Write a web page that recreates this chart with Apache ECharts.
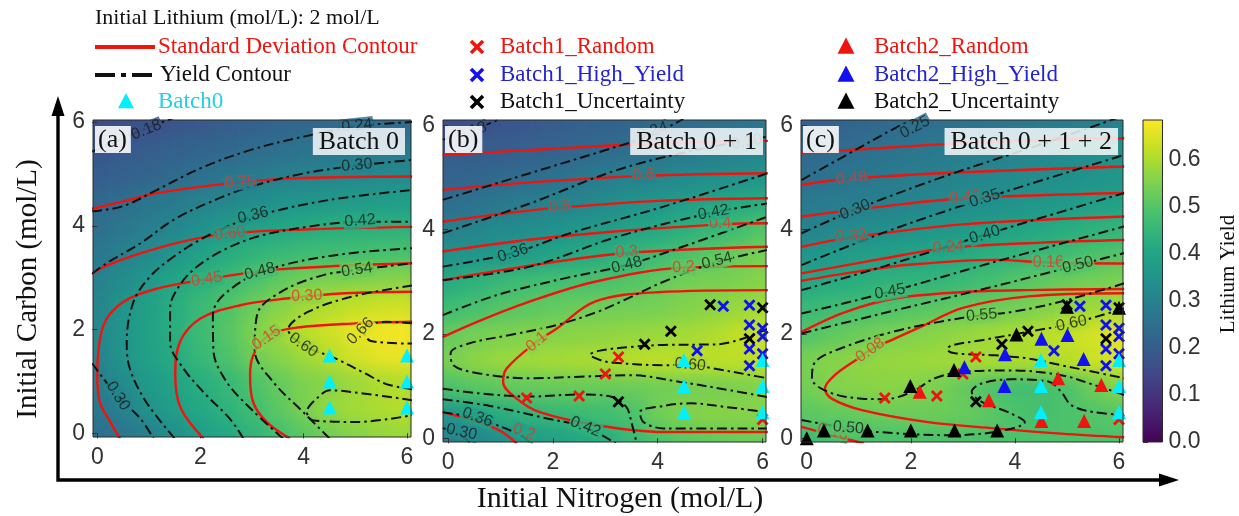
<!DOCTYPE html>
<html><head><meta charset="utf-8">
<script src="https://cdn.jsdelivr.net/npm/echarts@6/dist/echarts.min.js"></script>
<style>html,body{margin:0;padding:0;background:#fff}#chart{width:1239px;height:516px}</style>
</head><body><div id="chart"></div>
<script>
// ---- grid nodes of the predicted yield surface (mol/L) ----
const nodes = [0,0.5,1,1.5,2,2.5,3,3.5,4,4.5,5,5.5,6];
const axisTicks = [0,2,4,6];
const barTicks = [0,0.1,0.2,0.3,0.4,0.5,0.6];

// rows run from Carbon = 0 (first) to Carbon = 6 (last); columns follow Nitrogen
const fieldA = [
 [0.25,0.27,0.295,0.34,0.38,0.41,0.445,0.48,0.51,0.54,0.56,0.575,0.585],
 [0.275,0.295,0.35,0.385,0.41,0.44,0.47,0.51,0.545,0.575,0.59,0.60,0.61],
 [0.29,0.33,0.37,0.40,0.425,0.455,0.49,0.52,0.55,0.565,0.585,0.60,0.61],
 [0.305,0.355,0.39,0.42,0.455,0.49,0.53,0.56,0.585,0.61,0.64,0.66,0.665],
 [0.315,0.355,0.39,0.43,0.465,0.50,0.545,0.585,0.61,0.635,0.66,0.67,0.675],
 [0.31,0.35,0.39,0.425,0.46,0.49,0.525,0.555,0.585,0.605,0.62,0.63,0.635],
 [0.30,0.33,0.36,0.40,0.43,0.46,0.485,0.51,0.535,0.545,0.55,0.555,0.56],
 [0.27,0.295,0.32,0.355,0.39,0.42,0.44,0.455,0.465,0.47,0.475,0.48,0.485],
 [0.25,0.27,0.29,0.31,0.34,0.365,0.385,0.40,0.415,0.425,0.43,0.43,0.435],
 [0.23,0.245,0.265,0.28,0.30,0.315,0.33,0.345,0.355,0.36,0.37,0.375,0.38],
 [0.20,0.21,0.22,0.235,0.25,0.265,0.275,0.29,0.30,0.31,0.315,0.32,0.325],
 [0.18,0.19,0.20,0.21,0.22,0.23,0.24,0.25,0.26,0.265,0.27,0.275,0.28],
 [0.16,0.165,0.17,0.18,0.19,0.20,0.21,0.22,0.225,0.23,0.24,0.24,0.245]
];
const fieldB = [
 [0.28,0.31,0.34,0.37,0.39,0.41,0.43,0.46,0.49,0.51,0.52,0.53,0.53],
 [0.37,0.40,0.43,0.445,0.455,0.465,0.475,0.49,0.535,0.555,0.56,0.56,0.56],
 [0.49,0.505,0.515,0.52,0.525,0.525,0.525,0.53,0.535,0.54,0.545,0.55,0.555],
 [0.545,0.565,0.58,0.585,0.59,0.595,0.60,0.61,0.615,0.615,0.615,0.615,0.62],
 [0.52,0.54,0.55,0.555,0.56,0.565,0.57,0.575,0.58,0.59,0.60,0.62,0.63],
 [0.47,0.485,0.50,0.51,0.52,0.53,0.535,0.54,0.545,0.555,0.565,0.58,0.59],
 [0.42,0.44,0.46,0.47,0.48,0.485,0.49,0.50,0.52,0.54,0.545,0.55,0.56],
 [0.35,0.36,0.37,0.38,0.40,0.42,0.43,0.45,0.47,0.49,0.51,0.53,0.545],
 [0.30,0.31,0.325,0.335,0.345,0.36,0.375,0.395,0.415,0.435,0.455,0.475,0.50],
 [0.245,0.26,0.275,0.29,0.305,0.315,0.33,0.345,0.36,0.38,0.40,0.42,0.43],
 [0.22,0.225,0.235,0.245,0.255,0.27,0.29,0.305,0.315,0.325,0.335,0.345,0.355],
 [0.195,0.20,0.205,0.21,0.22,0.23,0.24,0.25,0.26,0.275,0.29,0.30,0.31],
 [0.165,0.17,0.18,0.19,0.20,0.21,0.215,0.225,0.235,0.24,0.25,0.26,0.27]
];
const fieldC = [
 [0.47,0.48,0.485,0.49,0.49,0.49,0.49,0.49,0.49,0.49,0.49,0.49,0.49],
 [0.51,0.52,0.525,0.53,0.53,0.53,0.525,0.51,0.49,0.48,0.49,0.50,0.505],
 [0.54,0.555,0.56,0.565,0.56,0.545,0.52,0.495,0.48,0.48,0.49,0.53,0.56],
 [0.545,0.56,0.57,0.575,0.58,0.585,0.59,0.595,0.60,0.60,0.61,0.63,0.65],
 [0.50,0.515,0.53,0.545,0.555,0.565,0.575,0.585,0.595,0.61,0.625,0.64,0.655],
 [0.46,0.47,0.48,0.49,0.50,0.51,0.52,0.53,0.54,0.555,0.57,0.585,0.60],
 [0.41,0.42,0.43,0.44,0.445,0.45,0.465,0.48,0.50,0.515,0.53,0.54,0.55],
 [0.36,0.37,0.38,0.39,0.40,0.41,0.42,0.435,0.445,0.46,0.475,0.49,0.50],
 [0.305,0.32,0.33,0.34,0.35,0.36,0.37,0.385,0.40,0.415,0.425,0.44,0.45],
 [0.28,0.285,0.29,0.30,0.31,0.32,0.33,0.34,0.35,0.36,0.37,0.38,0.39],
 [0.25,0.26,0.27,0.28,0.29,0.30,0.31,0.315,0.325,0.335,0.34,0.35,0.36],
 [0.23,0.24,0.25,0.26,0.27,0.28,0.29,0.295,0.305,0.315,0.325,0.335,0.345],
 [0.205,0.215,0.225,0.235,0.245,0.255,0.26,0.265,0.27,0.28,0.285,0.295,0.30]
];

// ---- contour traces: [level, points, label [x, y, angle] or null] ----
const stdA = [
 ['0.75', [[-0.1,4.33],[0.5,4.47],[1.15,4.63],[2.3,4.79],[3.5,4.9],[4.8,4.94],[6.1,4.95]], [2.77,4.84,4]],
 ['0.60', [[-0.1,3.07],[0.12,3.21],[0.83,3.47],[1.8,3.73],[2.6,3.86],[4,3.93],[6.1,3.98]], [2.57,3.85,7]],
 ['0.45', [[0.44,-0.1],[0.25,0.22],[0.05,0.6],[0,1.12],[0.12,2.08],[0.5,2.53],[1.16,2.79],[2.12,2.97],[3.5,3.16],[6.1,3.28]], [2.12,2.97,9]],
 ['0.30', [[2.06,-0.1],[1.62,0.48],[1.51,1.12],[1.6,1.76],[1.99,2.21],[2.77,2.47],[3.67,2.6],[4.8,2.7],[6.1,2.73]], [4.06,2.65,3]],
 ['0.15', [[3.73,-0.1],[3.28,0.22],[3.02,0.6],[2.96,1.12],[3.02,1.5],[3.28,1.86],[3.73,2.02],[5,2.12],[6.1,2.15]], [3.28,1.84,35]]
];
const yieldA = [
 ['0.18', [[-0.1,5.43],[0.4,5.64],[0.92,5.87],[1.54,6.1]], [0.95,5.85,22]],
 ['0.24', [[-0.1,4.28],[0.5,4.38],[1.15,4.69],[2.0,5.11],[2.96,5.46],[4.0,5.72],[5.03,5.92],[6.1,6.0]], [5.03,5.93,6]],
 ['0.30', [[-0.1,3.08],[0.18,3.28],[0.83,3.66],[1.47,4.11],[2.12,4.43],[2.96,4.75],[4.0,5.01],[5.03,5.16],[6.1,5.27]], [5.03,5.17,5]],
 ['0.30', [[-0.1,1.35],[0.38,0.73],[0.83,0.29],[1.09,-0.1]], [0.4,0.72,-58]],
 ['0.36', [[1.5,-0.1],[0.95,0.6],[0.63,1.25],[0.57,1.76],[0.7,2.53],[1.02,3.02],[1.47,3.4],[1.99,3.73],[2.44,3.95],[3.02,4.18],[4.5,4.5],[6.1,4.69]], [3.02,4.2,14]],
 ['0.42', [[2.83,-0.1],[2.57,0.28],[2.12,0.73],[1.67,1.25],[1.41,1.76],[1.41,2.41],[1.6,2.86],[1.93,3.21],[2.44,3.53],[3.09,3.79],[4.06,3.98],[5.09,4.08],[6.1,4.08]], [5.09,4.1,4]],
 ['0.48', [[3.6,-0.1],[3.0,0.45],[2.5,1.0],[2.25,1.6],[2.24,2.28],[2.44,2.66],[3.15,3.1],[4.5,3.42],[6.1,3.57]], [3.15,3.12,15]],
 ['0.54', [[4.5,-0.1],[4.0,0.4],[3.4,1.0],[3.05,1.6],[3.1,2.3],[3.6,2.75],[4.38,3.05],[5.03,3.15],[6.1,3.28]], [5.03,3.15,8]],
 ['0.60', [[6.1,2.85],[5.0,2.65],[4.1,2.35],[3.7,2.0],[3.99,1.7],[4.6,1.45],[5.2,1.15],[5.6,0.95],[6.1,0.85]], [3.99,1.7,-35]],
 ['0.60', [[6.1,0.64],[5.15,0.77],[4.51,0.83],[4.25,0.67],[4.06,0.41],[4.19,0.25],[5.03,0.22],[6.1,0.35]], null],
 ['0.66', [[6.1,2.12],[5.6,2.15],[5.15,2.0],[5.3,1.78],[6.1,1.73]], [5.1,1.97,45]]
];
const stdB = [
 ['0.7', [[-0.1,5.43],[2,5.55],[4,5.65],[6.1,5.7]], null],
 ['0.6', [[-0.1,4.76],[1.5,4.9],[3.73,5.03],[6.1,5.08]], [3.73,5.05,3]],
 ['0.5', [[-0.1,4.15],[1,4.3],[2.13,4.42],[4,4.55],[6.1,4.6]], [2.13,4.44,5]],
 ['0.4', [[-0.1,3.58],[1.5,3.8],[3,3.95],[5.19,4.1],[6.1,4.12]], [5.19,4.12,2]],
 ['0.3', [[-0.1,3.03],[1.5,3.3],[3.41,3.55],[6.1,3.67]], [3.41,3.57,5]],
 ['0.2', [[-0.1,1.94],[0.6,2.25],[1.5,2.6],[2.8,3.0],[4.49,3.27],[6.1,3.3]], [4.49,3.28,3]],
 ['0.2', [[-0.1,0.5],[0.92,0.18],[1.31,-0.1]], [1.45,0.12,-20]],
 ['0.1', [[6.1,2.84],[4,2.8],[2.8,2.62],[2.07,2.1],[1.69,1.85],[1.12,1.34],[1.05,1.08],[1.31,0.76],[1.75,0.5],[2.84,0.25],[4.11,0.12],[6.1,0.12]], [1.69,1.85,40]]
];
const yieldB = [
 ['0.18', [[-0.1,5.72],[0.45,5.9],[1.0,6.12]], [0.45,5.88,18]],
 ['0.24', [[-0.1,4.57],[1.56,5.08],[3.22,5.59],[3.85,5.8],[4.49,6.12]], [3.9,5.88,18]],
 ['0.30', [[-0.1,3.93],[1.56,4.5],[3.22,5.14],[4.75,5.53],[6.1,5.78]], [5.7,5.68,10]],
 ['0.36', [[-0.1,3.29],[1.24,3.55],[2.33,3.93],[4.11,4.44],[6.1,5.08]], [1.24,3.55,18]],
 ['0.42', [[-0.1,3.03],[1.56,3.29],[3.22,3.86],[5.06,4.33],[6.1,4.5]], [5.06,4.33,10]],
 ['0.48', [[-0.1,2.36],[0.92,2.74],[2.2,3.06],[3.41,3.32],[4.5,3.68],[6.1,4.25]], [3.41,3.32,14]],
 ['0.54', [[6.1,3.61],[5.13,3.38],[4.11,3.0],[3.3,2.62],[2.84,2.42],[2.07,2.17],[1.18,1.98],[0.41,1.82],[0.05,1.63],[0.1,1.4],[0.61,1.24],[1.56,1.15],[2.52,1.18],[3.47,1.21],[4.43,1.08],[5.38,0.92],[6.1,0.79]], [5.13,3.4,14]],
 ['0.60', [[6.1,2.1],[5.13,1.8],[4.11,1.79],[3.47,1.75],[2.9,1.68],[2.71,1.6],[2.9,1.5],[3.15,1.45],[4.11,1.4],[4.62,1.41],[5.06,1.34],[5.77,1.21],[6.1,1.15]], [4.62,1.41,-5]],
 ['0.48', [[-0.1,0.95],[0.61,0.86],[1.56,0.8],[2.52,0.84],[3.1,0.8],[3.4,0.6],[3.5,0.3],[3.6,-0.1]], null],
 ['0.54', [[6.1,0.19],[4.11,0.19],[3.73,0.31],[3.66,0.5],[4.11,0.62],[4.62,0.67],[5.3,0.6],[6.1,0.5]], null],
 ['0.30', [[-0.1,0.2],[0.22,0.06],[0.45,-0.1]], [0.26,0.12,-12]],
 ['0.36', [[-0.1,0.5],[0.54,0.38],[1.3,0.1],[1.6,-0.1]], [0.56,0.4,-20]],
 ['0.42', [[-0.1,0.75],[0.8,0.62],[1.8,0.4],[2.64,0.2],[3.2,-0.1]], [2.62,0.22,-22]]
];
const stdC = [
 ['0.56', [[-0.1,5.46],[2,5.6],[4,5.7],[6.1,5.75]], null],
 ['0.48', [[-0.1,4.86],[0.86,4.98],[3,5.1],[6.1,5.21]], [0.86,4.98,4]],
 ['0.40', [[-0.1,4.25],[1.5,4.45],[3.04,4.6],[6.1,4.7]], [3.04,4.62,4]],
 ['0.32', [[-0.1,3.67],[0.86,3.85],[3,4.1],[6.1,4.25]], [0.86,3.88,5]],
 ['0.24', [[-0.1,3.16],[1.5,3.45],[2.72,3.65],[4.5,3.75],[6.1,3.8]], [2.72,3.66,4]],
 ['0.16', [[-0.1,3.02],[1.0,3.2],[2.0,3.33],[3.61,3.42],[4.64,3.37],[6.1,3.35]], [4.64,3.37,0]],
 ['0.16', [[-0.1,2.04],[0.74,2.42],[1.69,2.68],[2.97,2.8],[4.25,2.84],[6.1,2.86]], null],
 ['0.08', [[6.1,2.78],[4.25,2.72],[3.0,2.5],[2.2,2.14],[1.69,1.91],[1.22,1.69],[0.99,1.53],[0.54,1.21],[0.35,0.95],[0.48,0.76],[1.06,0.54],[2.33,0.31],[3.61,0.19],[4.89,0.09],[6.1,0.02]], [1.22,1.69,35]],
 ['0.16', [[-0.1,0.22],[0.48,0.06],[1.1,-0.1]], [0.5,0.12,-15]]
];
const yieldC = [
 ['0.25', [[-0.1,4.95],[0.8,5.45],[1.69,5.94],[2.14,6.15]], [2.08,5.96,28]],
 ['0.30', [[-0.1,3.93],[0.93,4.38],[2.59,5.0],[4.7,5.7],[6.0,6.15]], [0.93,4.38,22]],
 ['0.35', [[-0.1,3.32],[1.5,3.95],[3.42,4.6],[6.1,5.43]], [3.42,4.6,18]],
 ['0.40', [[-0.1,2.84],[1.5,3.3],[3.42,3.9],[6.1,4.7]], [3.42,3.9,17]],
 ['0.45', [[-0.1,2.39],[1.6,2.81],[3.5,3.35],[6.1,4.06]], [1.6,2.81,10]],
 ['0.50', [[-0.1,2.01],[1.69,2.45],[3.36,2.85],[5.21,3.32],[6.1,3.55]], [5.21,3.32,14]],
 ['0.50', [[-0.1,0.35],[0.8,0.19],[1.37,0.12],[2.65,0.06],[3.61,0.12],[4.19,0.31],[3.87,0.5],[3.36,0.7],[3.17,0.89],[3.36,1.05],[3.93,1.13],[4.64,1.09],[4.89,0.89],[5.09,0.63],[5.53,0.5],[6.1,0.45]], [0.8,0.2,-5]],
 ['0.55', [[6.1,2.97],[4.89,2.62],[3.93,2.42],[3.36,2.36],[2.65,2.25],[1.69,2.05],[0.73,1.75],[0.16,1.46],[0.1,1.15],[0.41,0.89],[1.06,0.76],[1.5,0.75],[2.02,0.89],[2.46,1.15],[2.97,1.27],[3.93,1.3],[4.89,1.21],[5.53,1.02],[6.1,0.83]], [3.36,2.36,5]],
 ['0.60', [[6.1,2.49],[5.09,2.2],[4.25,2.04],[3.36,1.88],[2.78,1.78],[2.7,1.7],[2.85,1.63],[3.61,1.59],[4.25,1.53],[4.89,1.4],[5.53,1.27],[6.1,1.15]], [5.09,2.2,12]]
];

// ---- sampled experiments (Nitrogen, Carbon) ----
const batch0 = [[4.5,0.5],[4.5,1.0],[4.5,1.5],[6,0.5],[6,1.0],[6,1.5]];
const batch1Random = [[3.25,1.56],[3.0,1.23],[2.5,0.81],[1.5,0.77],[6.0,0.36]];
const batch1HighYield = [[5.25,2.53],[5.75,2.55],[5.75,2.17],[6.0,2.11],[6.0,1.95],[5.75,1.71],[4.75,1.68],[6.0,1.62],[5.75,1.39]];
const batch1Uncertainty = [[5.0,2.56],[6.0,2.5],[4.25,2.05],[3.75,1.8],[3.25,0.7],[5.75,1.91]];
const batch2Random = [[2.17,0.89],[3.5,0.73],[4.83,1.15],[5.66,1.02],[4.51,0.33],[5.33,0.33]];
const batch2HighYield = [[4.51,1.91],[5.01,1.98],[3.81,1.61],[3.03,1.36],[3.8,1.0],[5.32,1.52]];
const batch2Uncertainty = [[5.0,2.52],[6.0,2.5],[4.03,1.99],[2.83,1.31],[1.99,1.0],[0.0,0.0],[0.33,0.15],[1.17,0.15],[2.0,0.15],[2.84,0.15],[3.66,0.15]];

// ---- styling ----
const CB_MAX = 0.685;
const VIRIDIS = ['#440154','#482475','#414487','#355f8d','#2a788e','#21918c','#22a884','#44bf70','#7ad151','#bddf26','#fde725'];
const SANS = '"Liberation Sans", Arial, sans-serif';
const SERIF = '"Liberation Serif", "Times New Roman", serif';
const RED = '#f0140f', RED_TXT = '#e23a2a', BLUE = '#1010f0', CYAN = '#00f0ff';
const X_PATH = 'path://M0,2 L2,0 L6,4 L10,0 L12,2 L8,6 L12,10 L10,12 L6,8 L2,12 L0,10 L4,6 Z';
const TOP = 1; // layer for everything drawn over the colour field

const PANELS = [
  {left:93,  top:120, width:318, height:317, xr:[-0.083,6.078], yr:[-0.07,6.04], tag:'(a)', title:'Batch 0', titleRight:834},
  {left:443, top:120, width:323, height:322, xr:[-0.096,6.065], yr:[-0.071,6.10], tag:'(b)', title:'Batch 0 + 1', titleRight:476},
  {left:801, top:120, width:322, height:322, xr:[-0.11,6.077],  yr:[-0.071,6.10], tag:'(c)', title:'Batch 0 + 1 + 2', titleRight:121}
];
const fields = [fieldA, fieldB, fieldC];
const stdSets = [stdA, stdB, stdC];
const yieldSets = [yieldA, yieldB, yieldC];

function hexToRgb(h){ return [1,3,5].map(k => parseInt(h.slice(k,k+2),16)); }
function viridis(v){
  const t = Math.max(0, Math.min(1, v / CB_MAX)) * (VIRIDIS.length - 1);
  const i = Math.min(VIRIDIS.length - 2, Math.floor(t)), f = t - i;
  const a = hexToRgb(VIRIDIS[i]), b = hexToRgb(VIRIDIS[i+1]);
  return 'rgb(' + a.map((c,k) => Math.round(c + (b[k]-c)*f)).join(',') + ')';
}
// backdrop colour for an inline contour label: weighted mix of the nearby node colours
function backdrop(field, x, y){
  let s = 0, w = 0;
  field.forEach((row, j) => row.forEach((v, i) => {
    const d2 = (nodes[i]-x)**2 + (nodes[j]-y)**2;
    if (d2 < 1) { const k = Math.exp(-d2 / 0.18); s += k * v; w += k; }
  }));
  return viridis(s / w);
}
function cells(field){
  const out = [];
  field.forEach((row, j) => row.forEach((v, i) => out.push([nodes[i], nodes[j], v])));
  return out;
}
// square cell centred on its node; border cells reach a little past the frame
function renderCell(params, api){
  const x = api.value(0), y = api.value(1);
  const x0 = x === 0 ? -0.5 : x - 0.25, x1 = x === 6 ? 6.5 : x + 0.25;
  const y0 = y === 0 ? -0.5 : y - 0.25, y1 = y === 6 ? 6.5 : y + 0.25;
  const p0 = api.coord([x0, y1]);
  const p1 = api.coord([x1, y0]);
  return {type:'rect', shape:{x:p0[0], y:p0[1], width:p1[0]-p0[0]+0.6, height:p1[1]-p0[1]+0.6},
          style:{fill:api.visual('color')}};
}

const grid = [], xAxis = [], yAxis = [], series = [], heatIdx = [];
PANELS.forEach((p, gi) => {
  grid.push({left:p.left, top:p.top, width:p.width, height:p.height, containLabel:false});
  xAxis.push({type:'value', gridIndex:gi, zlevel:TOP, min:p.xr[0], max:p.xr[1], splitLine:{show:false},
    axisLine:{show:false}, axisTick:{show:true, customValues:axisTicks, length:5, lineStyle:{color:'#333'}},
    axisLabel:{customValues:axisTicks, fontSize:23, color:'#333', fontFamily:SANS, margin:9}});
  yAxis.push({type:'value', gridIndex:gi, zlevel:TOP, min:p.yr[0], max:p.yr[1], splitLine:{show:false},
    axisLine:{show:false}, axisTick:{show:true, customValues:axisTicks, length:5, lineStyle:{color:'#333'}},
    axisLabel:{customValues:axisTicks, fontSize:23, color:'#333', fontFamily:SANS, margin:8}});

  heatIdx.push(series.length);
  series.push({type:'custom', xAxisIndex:gi, yAxisIndex:gi, clip:false, silent:true, zlevel:0, z:1,
    data:cells(fields[gi]), renderItem:renderCell});

  stdSets[gi].forEach(([lv, pts]) => series.push({type:'line', xAxisIndex:gi, yAxisIndex:gi, data:pts, zlevel:TOP,
    smooth:0.35, symbol:'none', silent:true, z:3, clip:true, lineStyle:{color:RED, width:2.4}}));
  yieldSets[gi].forEach(([lv, pts]) => series.push({type:'line', xAxisIndex:gi, yAxisIndex:gi, data:pts, zlevel:TOP,
    smooth:0.35, symbol:'none', silent:true, z:3, clip:true, lineStyle:{color:'#111', width:2, type:[10,4,2.5,4]}}));

  const labelItems = (set, color) => set.filter(c => c[2]).map(([lv, pts, at]) => ({
    value:[at[0], at[1]],
    label:{show:true, position:'inside', formatter:lv, rotate:at[2], color:color, fontSize:16, fontFamily:SANS,
           backgroundColor:backdrop(fields[gi], at[0], at[1]), padding:[0,1]}
  }));
  series.push({type:'scatter', xAxisIndex:gi, yAxisIndex:gi, zlevel:TOP, symbol:'circle', symbolSize:1, silent:true, z:4,
    itemStyle:{color:'transparent'}, data:labelItems(stdSets[gi], RED_TXT)});
  series.push({type:'scatter', xAxisIndex:gi, yAxisIndex:gi, zlevel:TOP, symbol:'circle', symbolSize:1, silent:true, z:4,
    itemStyle:{color:'transparent'}, data:labelItems(yieldSets[gi], '#1a1a1a')});

  const marks = (data, symbol, color, size) => series.push({type:'scatter', xAxisIndex:gi, yAxisIndex:gi, zlevel:TOP,
    data, symbol, symbolSize:size, silent:true, z:6, clip:false, itemStyle:{color, opacity:1}});
  if (gi >= 1) {
    marks(batch1Random, X_PATH, RED, 12);
    marks(batch1HighYield, X_PATH, BLUE, 12);
    marks(batch1Uncertainty, X_PATH, '#000', 12);
  }
  if (gi >= 2) {
    marks(batch2Random, 'triangle', RED, 14);
    marks(batch2HighYield, 'triangle', BLUE, 14);
    marks(batch2Uncertainty, 'triangle', '#000', 14);
  }
  marks(batch0, 'triangle', CYAN, 14);
});

// colour bar axis
grid.push({left:1143, top:120, width:19.5, height:322});
xAxis.push({type:'value', gridIndex:3, zlevel:TOP, show:false, min:0, max:1});
yAxis.push({type:'value', gridIndex:3, zlevel:TOP, min:0, max:CB_MAX, position:'right', splitLine:{show:false},
  axisLine:{show:false}, axisTick:{show:true, customValues:barTicks, length:5, lineStyle:{color:'#333'}},
  axisLabel:{customValues:barTicks, formatter:v => v.toFixed(1), fontSize:23, color:'#333', fontFamily:SANS, margin:6}});

// ---- decorations: white surround, frames, tags, legend, arrows, axis titles ----
const graphic = [];
const W = 1239, H = 516;
[[0,0,W,120],[0,120,93,H-120],[411,120,32,H-120],[766,120,35,H-120],[1123,120,W-1123,H-120],
 [93,437,318,H-437],[443,442,323,H-442],[801,442,322,H-442]].forEach(r =>
  graphic.push({type:'rect', zlevel:TOP, z:-10, shape:{x:r[0], y:r[1], width:r[2], height:r[3]}, style:{fill:'#fff'}}));

PANELS.forEach(p => {
  graphic.push({type:'rect', zlevel:TOP, z:50, shape:{x:p.left, y:p.top, width:p.width, height:p.height},
    style:{fill:'none', stroke:'#2a2a2a', lineWidth:1}});
  graphic.push({type:'text', zlevel:TOP, z:60, left:p.left + 2, top:p.top + 6,
    style:{text:p.tag, font:'26px ' + SERIF, fill:'#111', backgroundColor:'rgba(255,255,255,0.88)', padding:[1,4,0,3]}});
  graphic.push({type:'text', zlevel:TOP, z:60, right:p.titleRight, top:p.top + 8,
    style:{text:p.title, font:'26px ' + SERIF, fill:'#111', backgroundColor:'rgba(255,255,255,0.82)', padding:[1,6,0,6]}});
});
graphic.push({type:'rect', zlevel:TOP, z:40, shape:{x:1143, y:120, width:19.5, height:322},
  style:{fill:new echarts.graphic.LinearGradient(0,1,0,0, VIRIDIS.map((c,k)=>({offset:k/(VIRIDIS.length-1), color:c}))),
         stroke:'#2a2a2a', lineWidth:1}});

const txt = (x, y, text, color, size) => graphic.push({type:'text', zlevel:TOP, z:70, x, y,
  style:{text, font:size + 'px ' + SERIF, fill:color, verticalAlign:'middle', align:'left'}});
const ctxt = (x, y, text, size, rotation) => graphic.push({type:'text', zlevel:TOP, z:70, x, y, rotation:rotation || 0,
  style:{text, font:size + 'px ' + SERIF, fill:'#111', verticalAlign:'middle', align:'center'}});
const tri = (cx, cy, s, color) => graphic.push({type:'polygon', zlevel:TOP, z:70,
  shape:{points:[[cx, cy - s*0.5],[cx + s*0.5, cy + s*0.45],[cx - s*0.5, cy + s*0.45]]}, style:{fill:color}});
const cross = (cx, cy, s, color) => {
  graphic.push({type:'line', zlevel:TOP, z:70, shape:{x1:cx-s/2, y1:cy-s/2, x2:cx+s/2, y2:cy+s/2}, style:{stroke:color, lineWidth:3.6}});
  graphic.push({type:'line', zlevel:TOP, z:70, shape:{x1:cx-s/2, y1:cy+s/2, x2:cx+s/2, y2:cy-s/2}, style:{stroke:color, lineWidth:3.6}});
};

txt(95, 18, 'Initial Lithium (mol/L): 2 mol/L', '#111', 22);
graphic.push({type:'line', zlevel:TOP, z:70, shape:{x1:95, y1:47, x2:155, y2:47}, style:{stroke:RED, lineWidth:4}});
txt(158, 47, 'Standard Deviation Contour', RED, 23);
graphic.push({type:'line', zlevel:TOP, z:70, shape:{x1:95, y1:75, x2:155, y2:75}, style:{stroke:'#111', lineWidth:4, lineDash:[20,6,5,6]}});
txt(160, 75, 'Yield Contour', '#111', 23);
tri(126, 101, 16, CYAN);
txt(158, 102, 'Batch0', '#22cfe4', 23);

cross(477, 47, 12, RED);   txt(500, 47, 'Batch1_Random', RED, 23);
cross(477, 75, 12, BLUE);  txt(500, 75, 'Batch1_High_Yield', '#2323d6', 23);
cross(477, 102, 12, '#000'); txt(500, 102, 'Batch1_Uncertainty', '#111', 23);

tri(846, 46, 17, RED);   txt(874, 47, 'Batch2_Random', RED, 23);
tri(846, 74, 17, BLUE);  txt(874, 75, 'Batch2_High_Yield', '#2323d6', 23);
tri(846, 101, 17, '#000'); txt(874, 102, 'Batch2_Uncertainty', '#111', 23);

// long axis arrows
graphic.push({type:'polyline', zlevel:TOP, z:70, shape:{points:[[58,112],[58,480],[1162,480]]}, style:{stroke:'#000', lineWidth:3.4, fill:'none'}});
graphic.push({type:'polygon', zlevel:TOP, z:70, shape:{points:[[58,96],[51.5,116],[64.5,116]]}, style:{fill:'#000'}});
graphic.push({type:'polygon', zlevel:TOP, z:70, shape:{points:[[1179,480],[1159,473.5],[1159,486.5]]}, style:{fill:'#000'}});

ctxt(620, 499, 'Initial Nitrogen (mol/L)', 30, 0);
ctxt(28, 289, 'Initial Carbon (mol/L)', 29, Math.PI/2);
ctxt(1228, 274, 'Lithium Yield', 21, Math.PI/2);

const chart = echarts.init(document.getElementById('chart'));
chart.setOption({
  animation:false,
  grid, xAxis, yAxis, series, graphic,
  visualMap:{type:'continuous', show:false, min:0, max:CB_MAX, dimension:2, seriesIndex:heatIdx, inRange:{color:VIRIDIS}}
});
// the colour field sits on its own canvas layer; soften the cell seams of that layer only
const fieldLayer = chart.getZr().painter.getLayer(0);
if (fieldLayer && fieldLayer.dom) fieldLayer.dom.style.filter = 'blur(8px)';
</script></body></html>
